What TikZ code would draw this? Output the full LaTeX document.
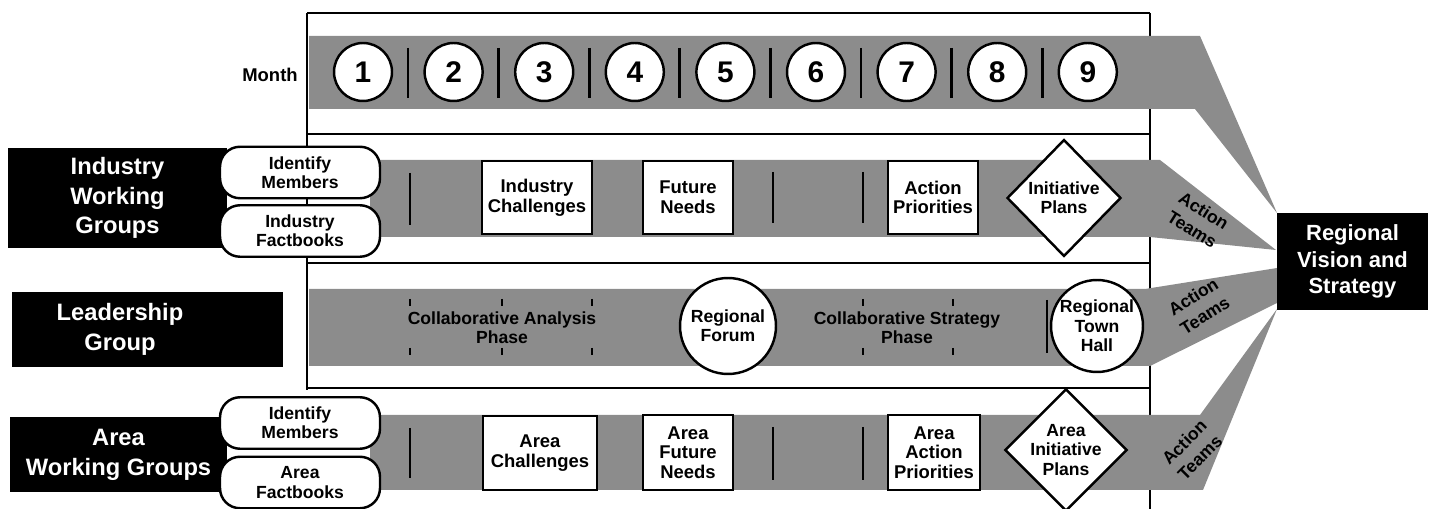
\documentclass[tikz,border=0pt]{standalone}
\usepackage{fontspec}
\setmainfont{Liberation Sans}
\usepackage{tikz}
\usetikzlibrary{positioning}
\usetikzlibrary{shapes.geometric}
\definecolor{bandColor}{gray}{0.55}
\definecolor{labelColor}{rgb}{0,0,0}

\begin{document}
\begin{tikzpicture}[x=0.02cm, y=-0.02cm]

          \tikzstyle{band} = [fill=bandColor];
          \tikzstyle{frameLine} = [line width=1.6pt];
          \tikzstyle{sepLine} = [line width=1.6pt];
          \tikzstyle{tickLine} = [line width=1.2pt];
          \tikzstyle{groupLabel} = [text=white, align=center, inner sep=0pt, font=\fontsize{13.5}{17}\selectfont\bfseries];
          \tikzstyle{monthNode} = [circle, draw, line width=1.4pt, fill=white, minimum size=1.16cm, inner sep=0pt, font=\fontsize{17}{20}\selectfont\bfseries];
          \tikzstyle{pillNode} = [rectangle, rounded corners=0.4cm, draw, line width=1.4pt, fill=white, minimum width=3.2cm, minimum height=1.03cm, inner sep=0pt, align=center, font=\fontsize{10}{11}\selectfont\bfseries];
          \tikzstyle{stepBox} = [rectangle, draw, line width=1.4pt, fill=white, minimum height=1.47cm, inner sep=0pt, align=center, font=\fontsize{10.5}{11.2}\selectfont\bfseries];
          \tikzstyle{planNode} = [diamond, draw, line width=1.4pt, fill=white, inner sep=0pt, align=center, font=\fontsize{10}{11}\selectfont\bfseries];
          \tikzstyle{eventNode} = [circle, draw, line width=1.4pt, fill=white, inner sep=0pt, align=center, font=\fontsize{10}{11}\selectfont\bfseries];
          \tikzstyle{phaseText} = [align=center, inner sep=0pt, font=\fontsize{10}{11}\selectfont\bfseries];
          \tikzstyle{teamText} = [align=center, inner sep=0pt, font=\fontsize{10}{12.5}\selectfont\bfseries];

          \useasboundingbox (0,0) rectangle (1433,509);

          % frame
          \draw[frameLine] (307,13) -- (1150,13);
          \draw[frameLine] (307,13) -- (307,390);
          \draw[frameLine] (1150,13) -- (1150,509);
          \foreach \y in {134,263,388}
            \draw[frameLine] (307,\y) -- (1150,\y);

          % bands
          \fill[band] (309,36) -- (1200,36) -- (1277,213) -- (1195,109) -- (309,109) -- cycle;
          \fill[band] (370,160) -- (1160,160) -- (1276,250) -- (1150,237) -- (370,237) -- cycle;
          \fill[band] (309,289) -- (1145,289) -- (1277,268) -- (1277,303) -- (1150,366) -- (309,366) -- cycle;
          \fill[band] (370,415) -- (1200,415) -- (1277,309) -- (1203,490) -- (370,490) -- cycle;

          % month row
          \node[font=\fontsize{10.5}{12}\selectfont\bfseries] (monthLabel) at (270,75) {Month};
          \foreach \i in {1,...,8}
            \draw[sepLine] ({408+90.6*(\i-1)},48) -- ++(0,50);
          \foreach \i in {1,...,9}
            \node[monthNode] (m\i) at ({363+90.6*(\i-1)},72) {\i};

          % industry row
          \node[groupLabel, fill=labelColor, minimum width=4.38cm, minimum height=2cm] (indGroup) at (117.5,198) {Industry\\Working\\Groups};
          \node[pillNode] (indMembers) at (300,172.5) {Identify\\Members};
          \node[pillNode] (indFacts) at (300,231) {Industry\\Factbooks};
          \foreach \x/\a/\b in {410/173/225,773/172/223,863/172/223}
            \draw[sepLine] (\x,\a) -- (\x,\b);
          \node[stepBox, minimum width=2.2cm] (indChallenges) at (537,197.5) {Industry\\Challenges};
          \node[stepBox, minimum width=1.8cm] (indNeeds) at (688,197.5) {Future\\Needs};
          \node[stepBox, minimum width=1.8cm] (indPriorities) at (933,197.5) {Action\\Priorities};
          \node[planNode, minimum width=2.28cm, minimum height=2.34cm] (indPlans) at (1064,198) {Initiative\\Plans};
          \node[teamText, rotate=-32] (indTeams) at (1198,220) {Action\\Teams};

          % leadership row
          \fill[labelColor] (12,292) rectangle (283,367);
          \node[groupLabel] (leadGroup) at (120,329) {Leadership\\Group};
          \foreach \x in {410,502,592,863,953} {
            \draw[tickLine] (\x,299) -- ++(0,7);
            \draw[tickLine] (\x,348) -- ++(0,7);
          }
          \node[phaseText] (analysisPhase) at (502,328) {Collaborative Analysis\\Phase};
          \node[eventNode, minimum size=1.92cm] (forum) at (728,326) {Regional\\Forum};
          \node[phaseText] (strategyPhase) at (907,328) {Collaborative Strategy\\Phase};
          \draw[sepLine] (1047,300) -- (1047,353);
          \node[eventNode, minimum size=1.84cm] (townHall) at (1097,326) {Regional\\Town\\Hall};
          \node[teamText, rotate=32] (leadTeams) at (1199,306) {Action\\Teams};

          % area row
          \node[groupLabel, fill=labelColor, minimum width=4.34cm, minimum height=1.5cm] (areaGroup) at (118.5,454.5) {Area\\Working Groups};
          \node[pillNode] (areaMembers) at (300,423) {Identify\\Members};
          \node[pillNode] (areaFacts) at (300,482.5) {Area\\Factbooks};
          \foreach \x/\a/\b in {410/428/478,773/427/480,863/427/480}
            \draw[sepLine] (\x,\a) -- (\x,\b);
          \node[stepBox, minimum width=2.28cm, minimum height=1.48cm] (areaChallenges) at (540,453) {Area\\Challenges};
          \node[stepBox, minimum width=1.8cm, minimum height=1.5cm] (areaNeeds) at (688,452.5) {Area\\Future\\Needs};
          \node[stepBox, minimum width=1.84cm, minimum height=1.5cm] (areaPriorities) at (934,452.5) {Area\\Action\\Priorities};
          \node[planNode, minimum width=2.44cm, minimum height=2.32cm] (areaPlans) at (1066,450) {Area\\Initiative\\Plans};
          \node[teamText, rotate=45] (areaTeams) at (1192,450) {Action\\Teams};

          % goal
          \node[groupLabel, fill=labelColor, minimum width=3.02cm, minimum height=1.94cm, font=\fontsize{12.5}{15}\selectfont\bfseries] (region) at (1352.5,261.5) {Regional\\Vision and\\Strategy};
        \end{tikzpicture}
\end{document}
